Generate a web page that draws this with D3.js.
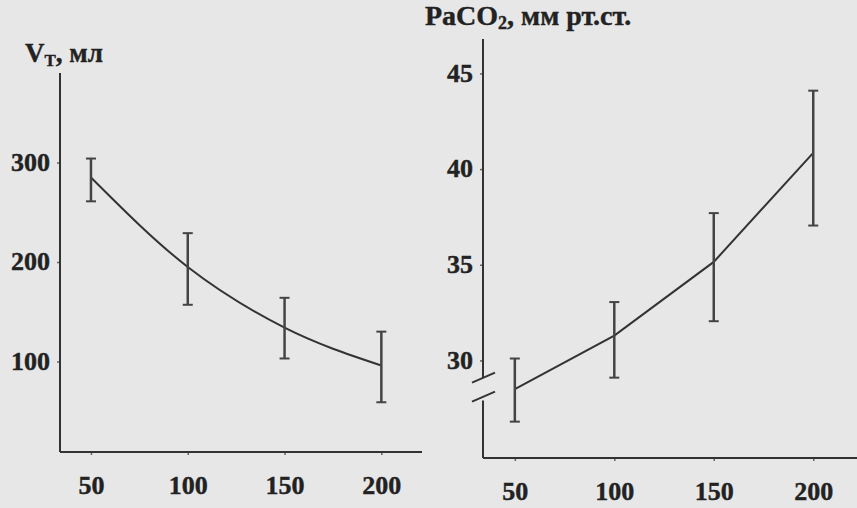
<!DOCTYPE html>
<html>
<head>
<meta charset="utf-8">
<script src="https://cdn.jsdelivr.net/npm/d3@7"></script>
<style>
  body { margin: 0; background: #e7e7e7; }
  svg { display: block; }
  .lbl { font-family: "Liberation Serif", "Times New Roman", serif; font-weight: bold; fill: #222; stroke: #222; stroke-width: 0.4; }
  .tick text { font-family: "Liberation Serif", "Times New Roman", serif; font-weight: bold; font-size: 26px; fill: #222; stroke: #222; stroke-width: 0.4; }
  .tick line { stroke: #666; stroke-width: 1.5; }
</style>
</head>
<body>
<svg id="chart"></svg>
<script>
// Data
const flowRates = [50, 100, 150, 200]          // x categories, both panels
const xTicks = [50, 100, 150, 200]

// left panel: tidal volume, ml
const vtMean = [285, 195, 134, 96]
const vtLow  = [261, 157, 103, 59]
const vtHigh = [304, 229, 164, 130]
const vtTicks = [100, 200, 300]

// right panel: PaCO2, mm Hg
const pcoMean = [28.5, 31.3, 35.15, 40.85]
const pcoLow  = [26.8, 29.1, 32.05, 37.05]
const pcoHigh = [30.1, 33.05, 37.7, 44.1]
const pcoTicks = [30, 35, 40, 45]
const pcoBreak = [27.9, 29.1]   // gap in the y axis

const width = 857
const height = 508

const svg = d3.select("#chart")
  .attr("width", width)
  .attr("height", height)

svg.append("rect")
  .attr("width", width)
  .attr("height", height)
  .attr("fill", "#e7e7e7")

function rows(mean, low, high) {
  return flowRates.map((x, i) => ({ x: x, y: mean[i], lo: low[i], hi: high[i] }))
}

// draws the line + error bars for one panel
function drawSeries(g, data, xScale, yScale, curve) {
  let line = d3.line()
    .x(d => xScale(d.x))
    .y(d => yScale(d.y))
    .curve(curve)

  g.append("path")
    .datum(data)
    .attr("d", line)
    .attr("fill", "none")
    .attr("stroke", "#333")
    .attr("stroke-width", 2)

  let bars = g.selectAll("g.err")
    .data(data)
    .enter()
    .append("g")
    .classed("err", true)

  bars.append("line")
    .attr("x1", d => xScale(d.x))
    .attr("x2", d => xScale(d.x))
    .attr("y1", d => yScale(d.lo))
    .attr("y2", d => yScale(d.hi))
    .attr("stroke", "#444")
    .attr("stroke-width", 2.5)

  // caps
  bars.selectAll("line.cap")
    .data(d => [[d.x, d.lo], [d.x, d.hi]])
    .enter()
    .append("line")
    .classed("cap", true)
    .attr("x1", d => xScale(d[0]) - 5)
    .attr("x2", d => xScale(d[0]) + 5)
    .attr("y1", d => yScale(d[1]))
    .attr("y2", d => yScale(d[1]))
    .attr("stroke", "#444")
    .attr("stroke-width", 2)
}

function drawAxes(g, xScale, yScale, yTicks) {
  g.append("g")
    .attr("transform", "translate(0," + yScale.range()[0] + ")")
    .call(d3.axisBottom(xScale).tickValues(xTicks).tickSize(3).tickPadding(21).tickFormat(d3.format("d")))
    .call(a => a.select(".domain").remove())

  g.append("g")
    .attr("transform", "translate(" + xScale.range()[0] + ",0)")
    .call(d3.axisLeft(yScale).tickValues(yTicks).tickSize(3).tickPadding(7).tickFormat(d3.format("d")))
    .call(a => a.select(".domain").remove())
    .selectAll(".tick text")
    .attr("dy", "0.3em")

  // x axis line
  g.append("line")
    .attr("x1", xScale.range()[0])
    .attr("x2", xScale.range()[1])
    .attr("y1", yScale.range()[0])
    .attr("y2", yScale.range()[0])
    .attr("stroke", "#333")
    .attr("stroke-width", 2)
}

////////////////////////////////////////////////////////////////////////////////
// left panel, V_T
////////////////////////////////////////////////////////////////////////////////
function drawLeft() {
  let xL = d3.scaleLinear().domain([34, 221]).range([60, 422])
  let yL = d3.scaleLinear().domain([9, 390]).range([452, 73])
  let g = svg.append("g")

  drawAxes(g, xL, yL, vtTicks)

  g.append("line")
    .attr("x1", xL.range()[0]).attr("x2", xL.range()[0])
    .attr("y1", yL.range()[0]).attr("y2", yL.range()[1])
    .attr("stroke", "#333")
    .attr("stroke-width", 2)

  drawSeries(g, rows(vtMean, vtLow, vtHigh), xL, yL, d3.curveMonotoneX)

  let t = g.append("text")
    .classed("lbl", true)
    .attr("x", 25)
    .attr("y", 62)
    .attr("font-size", 27)
  t.append("tspan").text("V")
  t.append("tspan").attr("font-size", 17).attr("dy", 4).text("T")
  t.append("tspan").attr("dy", -4).text(", мл")
}

////////////////////////////////////////////////////////////////////////////////
// right panel, PaCO2
////////////////////////////////////////////////////////////////////////////////
function drawRight() {
  let xR = d3.scaleLinear().domain([34, 222]).range([483, 857])
  let yR = d3.scaleLinear().domain([24.9, 46.8]).range([458, 39])
  let g = svg.append("g")

  drawAxes(g, xR, yR, pcoTicks)

  let x0 = xR.range()[0]
  // y axis in two pieces with a break
  g.append("line")
    .attr("x1", x0).attr("x2", x0)
    .attr("y1", yR.range()[1]).attr("y2", yR(pcoBreak[1]))
    .attr("stroke", "#333").attr("stroke-width", 2)
  g.append("line")
    .attr("x1", x0).attr("x2", x0)
    .attr("y1", yR(pcoBreak[0])).attr("y2", yR.range()[0])
    .attr("stroke", "#333").attr("stroke-width", 2)

  g.selectAll("line.brk")
    .data(pcoBreak)
    .enter()
    .append("line")
    .classed("brk", true)
    .attr("x1", x0 - 11)
    .attr("x2", x0 + 12)
    .attr("y1", (d, i) => yR(d) + (i == 0 ? 1 : 5))
    .attr("y2", (d, i) => yR(d) + (i == 0 ? -9 : -5))
    .attr("stroke", "#333")
    .attr("stroke-width", 2)

  drawSeries(g, rows(pcoMean, pcoLow, pcoHigh), xR, yR, d3.curveLinear)

  let t = g.append("text")
    .classed("lbl", true)
    .attr("x", 425)
    .attr("y", 25)
    .attr("font-size", 28)
  t.append("tspan").text("PaCO")
  t.append("tspan").attr("font-size", 18).attr("dy", 4).text("2")
  t.append("tspan").attr("dy", -4).text(", мм рт.ст.")
}

drawLeft()
drawRight()
</script>
</body>
</html>
